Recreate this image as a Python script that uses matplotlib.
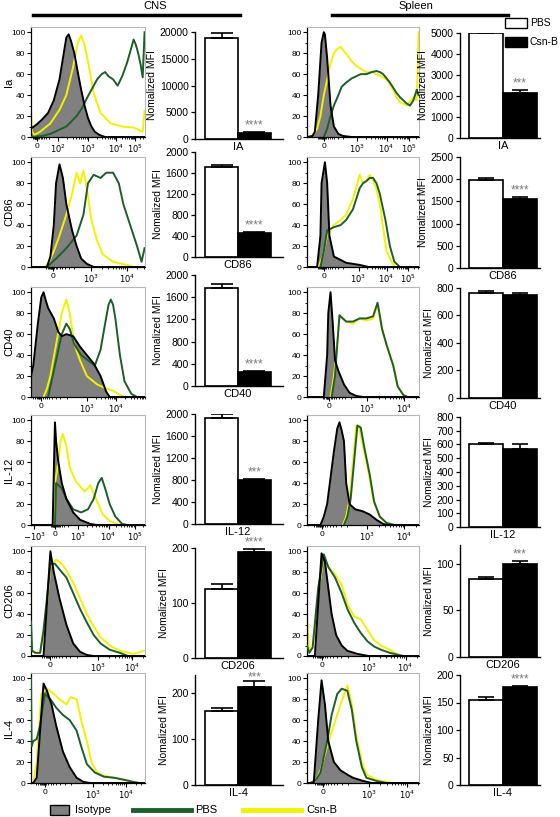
import math
import matplotlib.pyplot as plt
from matplotlib.patches import Rectangle
from matplotlib.lines import Line2D

plt.rcParams['font.family'] = ['Liberation Sans', 'DejaVu Sans']

W, H = 560, 817
GREEN = '#1d5e2a'
YELLOW = '#f2f200'
GRAY = '#808080'

# ---- data (histograms: x in % of axis width, y = % of max) ----
markers = ['Ia', 'CD86', 'CD40', 'IL-12', 'CD206', 'IL-4']
bar_labels = ['IA', 'CD86', 'CD40', 'IL-12', 'CD206', 'IL-4']

# CNS histograms
cns_ia_iso = [(0, 8), (5, 12), (10, 17), (15, 23), (20, 35), (25, 55), (28, 75), (31, 95), (33, 98), (35, 92),
              (38, 80), (41, 62), (44, 45), (47, 30), (50, 18), (53, 10), (56, 5), (60, 2), (65, 0), (100, 0)]
cns_ia_csnb = [(0, 23), (1, 5), (3, 2), (8, 5), (17, 13), (25, 26), (31, 40), (37, 67), (41, 90), (44, 97),
               (47, 88), (50, 72), (55, 42), (61, 23), (70, 13), (80, 10), (90, 9), (98, 5), (99.6, 25)]
cns_ia_pbs = [(0, 0), (10, 1), (17, 3), (25, 7), (31, 10), (40, 20), (45, 28), (49, 37), (54, 47), (58, 55),
              (62, 60), (65, 62), (68, 58), (72, 55), (76, 49), (80, 58), (84, 70), (88, 85), (90, 93), (92, 88),
              (94, 80), (96, 70), (98, 57), (99.6, 100)]

cns_cd86_iso = [(0, 0), (14, 0), (17, 10), (20, 40), (22, 80), (25, 98), (28, 85), (31, 60), (36, 35), (40, 20),
                (44, 8), (49, 3), (55, 0), (100, 0)]
cns_cd86_csnb = [(12, 0), (16, 5), (20, 15), (25, 30), (31, 50), (36, 70), (40, 90), (43, 80), (46, 92), (49, 75),
                 (53, 45), (58, 25), (63, 12), (72, 5), (84, 2), (90, 0)]
cns_cd86_pbs = [(14, 0), (22, 8), (31, 18), (40, 30), (46, 50), (50, 80), (55, 88), (61, 85), (66, 90), (72, 90),
                (77, 80), (81, 60), (87, 40), (93, 20), (97, 5), (99.6, 18)]

cns_cd40_iso = [(0, 20), (2, 30), (6, 70), (9, 95), (11, 100), (13, 92), (15, 85), (20, 75), (24, 62), (27, 58),
                (31, 60), (37, 58), (43, 48), (49, 40), (55, 32), (61, 20), (66, 5), (69, 0), (100, 0)]
cns_cd40_csnb = [(11, 0), (14, 8), (17, 20), (22, 50), (27, 80), (31, 93), (34, 80), (38, 50), (43, 35), (49, 20),
                 (58, 12), (66, 8), (72, 6), (78, 2), (82, 0)]
cns_cd40_pbs = [(15, 0), (18, 15), (21, 30), (27, 60), (31, 70), (34, 65), (38, 50), (44, 40), (50, 35), (56, 30),
                (61, 45), (65, 70), (68, 88), (70, 93), (72, 88), (74, 75), (78, 40), (82, 15), (88, 3), (93, 0)]

cns_il12_iso = [(0, 0), (19, 0), (20, 50), (21, 98), (22, 80), (24, 60), (27, 40), (31, 25), (37, 12), (43, 5),
                (52, 1), (58, 0), (100, 0)]
cns_il12_csnb = [(20, 0), (21, 40), (24, 60), (26, 80), (28, 87), (31, 75), (34, 55), (39, 42), (43, 37), (47, 32),
                 (50, 35), (52, 38), (55, 30), (59, 20), (63, 10), (69, 4), (75, 1), (80, 0)]
cns_il12_pbs = [(21, 0), (22, 40), (24, 38), (27, 35), (31, 25), (37, 15), (44, 12), (50, 15), (55, 25), (59, 40),
                (62, 45), (65, 35), (69, 20), (74, 8), (80, 1), (85, 0)]

cns_cd206_iso = [(0, 0), (11, 0), (14, 50), (17, 100), (20, 80), (25, 55), (31, 30), (37, 12), (43, 4), (49, 1),
                 (55, 0), (100, 0)]
cns_cd206_csnb = [(0, 5), (4, 3), (8, 3), (11, 20), (14, 50), (17, 85), (22, 92), (27, 88), (31, 82), (37, 70),
                  (43, 55), (49, 40), (55, 28), (61, 18), (69, 10), (78, 5), (90, 2), (99.6, 5)]
cns_cd206_pbs = [(0, 33), (1, 5), (4, 3), (8, 3), (11, 25), (14, 55), (17, 88), (21, 88), (27, 80), (31, 75),
                 (37, 60), (43, 45), (49, 32), (55, 20), (61, 12), (69, 6), (78, 3), (85, 0)]

cns_il4_iso = [(0, 0), (2, 0), (5, 5), (8, 50), (11, 95), (14, 88), (18, 75), (22, 55), (28, 30), (34, 15),
               (40, 5), (46, 1), (52, 0), (100, 0)]
cns_il4_csnb = [(2, 0), (5, 20), (9, 85), (14, 90), (20, 85), (25, 80), (31, 75), (35, 82), (40, 80), (44, 60),
                (49, 40), (53, 20), (58, 10), (64, 7), (73, 5), (82, 3), (90, 1), (95, 0)]
cns_il4_pbs = [(0, 100), (0.5, 35), (2, 40), (5, 42), (8, 55), (12, 85), (17, 80), (22, 72), (28, 65), (34, 60),
               (40, 50), (44, 35), (49, 18), (56, 10), (64, 6), (73, 5), (82, 3), (90, 1), (95, 0)]

# Spleen histograms
spl_ia_iso = [(0, 0), (5, 1), (7, 5), (10, 40), (13, 90), (15, 100), (16, 98), (18, 75), (21, 30), (24, 10),
              (28, 3), (32, 1), (40, 0), (100, 0)]
spl_ia_csnb = [(0, 0), (5, 1), (9, 8), (12, 20), (15, 40), (18, 55), (21, 70), (24, 80), (27, 84), (30, 86),
               (33, 82), (36, 78), (40, 72), (44, 68), (48, 65), (53, 62), (58, 62), (62, 60), (66, 58), (71, 55),
               (74, 50), (77, 45), (80, 38), (83, 33), (86, 32), (89, 30), (92, 34), (95, 38), (98, 35), (99.6, 100)]
spl_ia_pbs = [(15, 0), (18, 8), (21, 20), (24, 30), (28, 40), (31, 48), (35, 52), (40, 56), (44, 58), (48, 60),
              (53, 60), (58, 62), (62, 63), (65, 62), (68, 60), (71, 56), (74, 52), (77, 47), (80, 42), (83, 38),
              (86, 35), (89, 32), (92, 30), (95, 35), (98, 45), (99.6, 40)]

spl_cd86_iso = [(0, 0), (9, 0), (12, 30), (13, 80), (16, 100), (18, 80), (20, 30), (24, 10), (35, 4), (47, 2),
                (55, 0), (100, 0)]
spl_cd86_csnb = [(10, 0), (14, 10), (18, 30), (24, 40), (30, 45), (35, 50), (41, 65), (45, 80), (47, 88), (50, 80),
                 (53, 82), (56, 88), (58, 85), (62, 75), (65, 60), (67, 45), (71, 15), (77, 2), (80, 0)]
spl_cd86_pbs = [(12, 0), (15, 15), (18, 35), (24, 38), (30, 40), (35, 45), (41, 55), (47, 75), (50, 80), (53, 82),
                (56, 85), (59, 85), (62, 80), (65, 70), (70, 45), (74, 20), (78, 5), (83, 0)]

spl_cd40_iso = [(0, 0), (15, 0), (18, 40), (19, 80), (21, 100), (23, 70), (25, 35), (28, 25), (33, 12), (38, 4),
                (44, 1), (50, 0), (100, 0)]
spl_cd40_csnb = [(21, 0), (24, 20), (27, 50), (29, 78), (32, 75), (35, 72), (41, 70), (47, 75), (53, 73), (59, 75),
                 (63, 88), (65, 75), (67, 65), (71, 50), (77, 30), (81, 10), (86, 2), (90, 0)]
spl_cd40_pbs = [(22, 0), (25, 20), (27, 50), (29, 78), (32, 75), (35, 72), (41, 72), (47, 75), (53, 75), (59, 77),
                (63, 90), (65, 78), (67, 65), (71, 50), (77, 30), (81, 10), (86, 2), (90, 0)]

spl_il12_iso = [(0, 0), (12, 0), (15, 8), (18, 20), (21, 45), (24, 70), (27, 92), (29, 98), (31, 90), (33, 80),
                (35, 40), (38, 20), (43, 15), (50, 13), (56, 10), (62, 5), (68, 1), (72, 0), (100, 0)]
spl_il12_csnb = [(32, 0), (35, 8), (38, 25), (41, 60), (44, 95), (47, 92), (50, 75), (55, 50), (59, 25), (65, 8),
                 (71, 2), (78, 0)]
spl_il12_pbs = [(33, 0), (36, 8), (39, 25), (42, 60), (45, 95), (48, 93), (51, 75), (56, 48), (60, 22), (65, 8),
                (71, 2), (78, 0)]

spl_cd206_iso = [(0, 0), (7, 0), (10, 50), (13, 98), (16, 90), (19, 65), (22, 40), (26, 20), (31, 10), (36, 5),
                 (45, 2), (55, 0), (100, 0)]
spl_cd206_csnb = [(0, 35), (2, 5), (5, 8), (10, 60), (15, 95), (19, 85), (25, 78), (31, 68), (36, 50), (42, 38),
                  (48, 35), (54, 25), (60, 15), (66, 10), (74, 6), (80, 2), (85, 0)]
spl_cd206_pbs = [(0, 10), (2, 3), (5, 8), (10, 65), (15, 97), (19, 85), (25, 75), (31, 60), (36, 45), (42, 32),
                 (48, 22), (54, 14), (60, 9), (66, 6), (74, 3), (86, 0)]

spl_il4_iso = [(0, 0), (6, 0), (10, 60), (13, 98), (16, 75), (19, 40), (24, 20), (30, 12), (36, 8), (41, 5),
               (50, 2), (58, 0), (100, 0)]
spl_il4_csnb = [(3, 0), (8, 3), (12, 12), (18, 35), (24, 55), (30, 75), (36, 93), (40, 75), (44, 45), (49, 20),
                (53, 8), (62, 3), (71, 1), (78, 0)]
spl_il4_pbs = [(3, 0), (8, 3), (12, 10), (18, 40), (22, 65), (27, 85), (31, 90), (36, 88), (40, 70), (44, 40),
               (49, 15), (53, 5), (62, 2), (71, 0)]

# x tick labels of the flow axes: (decade exponent, None = 0, position in %)
cns_xticks = [
    [(None, 5), (2, 24), (3, 50), (4, 75), (5, 91)],
    [(None, 19), (3, 53), (4, 84)],
    [(None, 9), (3, 49), (4, 75)],
    [(-3, 3), (None, 21), (3, 41), (4, 68), (5, 91)],
    [(None, 17), (3, 59), (4, 89)],
    [(None, 12), (3, 54), (4, 83)],
]
spl_xticks = [
    [(None, 15), (3, 45), (4, 71), (5, 91)],
    [(None, 15), (3, 46), (4, 71), (5, 90)],
    [(None, 20), (3, 54), (4, 87)],
    [(None, 13), (3, 54), (4, 87)],
    [(None, 13), (3, 55), (4, 88)],
    [(None, 14), (3, 55), (4, 89)],
]

# bar charts: Nomalized MFI
cns_pbs = [18900, 1720, 1760, 1930, 125, 162]
cns_pbs_err = [900, 30, 80, 70, 10, 5]
cns_csnb = [1100, 460, 250, 800, 193, 213]
cns_csnb_err = [150, 20, 15, 25, 6, 15]
cns_stars = ['****', '****', '****', '***', '****', '***']
cns_yticks = [range(0, 20001, 5000), range(0, 2001, 400), range(0, 2001, 400),
              range(0, 2001, 400), range(0, 201, 100), range(0, 201, 100)]
cns_ytop = [20000, 2000, 2000, 2000, 200, 240]

spl_pbs = [5000, 1990, 760, 600, 84, 155]
spl_pbs_err = [150, 40, 15, 10, 2, 5]
spl_csnb = [2150, 1550, 750, 570, 100, 178]
spl_csnb_err = [130, 40, 10, 35, 3, 2]
spl_stars = ['***', '****', '', '', '***', '****']
spl_yticks = [range(0, 5001, 1000), range(0, 2501, 500), range(0, 801, 200),
              range(0, 801, 100), range(0, 101, 50), range(0, 201, 50)]
spl_ytop = [5000, 2500, 800, 800, 120, 200]

cns_hists = [(cns_ia_iso, cns_ia_pbs, cns_ia_csnb), (cns_cd86_iso, cns_cd86_pbs, cns_cd86_csnb),
             (cns_cd40_iso, cns_cd40_pbs, cns_cd40_csnb), (cns_il12_iso, cns_il12_pbs, cns_il12_csnb),
             (cns_cd206_iso, cns_cd206_pbs, cns_cd206_csnb), (cns_il4_iso, cns_il4_pbs, cns_il4_csnb)]
spl_hists = [(spl_ia_iso, spl_ia_pbs, spl_ia_csnb), (spl_cd86_iso, spl_cd86_pbs, spl_cd86_csnb),
             (spl_cd40_iso, spl_cd40_pbs, spl_cd40_csnb), (spl_il12_iso, spl_il12_pbs, spl_il12_csnb),
             (spl_cd206_iso, spl_cd206_pbs, spl_cd206_csnb), (spl_il4_iso, spl_il4_pbs, spl_il4_csnb)]

# ---- layout in pixels (top-left origin) ----
hist_bottom = [137, 267, 397, 525, 656, 783]
cns_bar_box = [(32, 139), (152, 257), (275, 386), (414, 524), (548, 658), (675, 785)]
spl_bar_box = [(33, 138), (157, 268), (288, 398), (417, 527), (545, 657), (675, 785)]

fig = plt.figure(figsize=(W / 100, H / 100), dpi=100)


def px_axes(x0, y0, x1, y1):
    return fig.add_axes([x0 / W, 1 - y1 / H, (x1 - x0) / W, (y1 - y0) / H])


def tick_label(exp):
    if exp is None:
        return '0'
    if exp < 0:
        return r'$-10^{%d}$' % (-exp)
    return r'$10^{%d}$' % exp


def draw_hist(ax, iso, pbs, csnb, xticks):
    x, y = zip(*iso)
    ax.fill_between(x, y, color=GRAY, lw=0, zorder=1)
    ax.plot(x, y, color='black', lw=1.4, zorder=4)
    x, y = zip(*csnb)
    ax.plot(x, y, color=YELLOW, lw=1.4, zorder=2)
    x, y = zip(*pbs)
    ax.plot(x, y, color=GREEN, lw=1.4, zorder=3)
    ax.set_xlim(0, 100)
    ax.set_ylim(0, 105)
    ax.set_yticks(range(0, 101, 20))
    ax.set_yticks(range(10, 100, 20), minor=True)
    ax.set_xticks([p for e, p in xticks])
    ax.set_xticklabels([tick_label(e) for e, p in xticks])
    # minor ticks: crowded near zero, log spaced inside decades
    minors = []
    zero = [p for e, p in xticks if e is None][0]
    ups = [p for e, p in xticks if e is not None and e > 0]
    first = ups[0]
    for m in range(2, 10):
        f = 1 - math.log10(m)
        minors.append(zero + (first - zero) * f * 0.8)
        minors.append(zero - (first - zero) * f * 0.25)
    for a, b in zip(ups[:-1], ups[1:]):
        for m in range(2, 10):
            minors.append(a + (b - a) * math.log10(m))
    if len(ups) >= 2:
        step = ups[-1] - ups[-2]
        for m in range(2, 10):
            minors.append(ups[-1] + step * math.log10(m))
    ax.set_xticks([m for m in minors if 0 < m < 100], minor=True)
    ax.tick_params(which='major', direction='out', length=3, width=0.8, labelsize=6, pad=1)
    ax.tick_params(which='minor', direction='out', length=1.6, width=0.6)
    for s in ('top', 'right'):
        ax.spines[s].set_color('#b8b8b8')
        ax.spines[s].set_linewidth(0.8)
    for s in ('left', 'bottom'):
        ax.spines[s].set_linewidth(0.9)


def draw_bars(ax, pbs, pbs_err, csnb, csnb_err, star, label, yticks, ytop, xlim, cap):
    ax.bar([0, 1], [pbs, csnb], width=1, color=['white', 'black'], edgecolor='black', lw=1.2, zorder=2)
    ax.errorbar([0, 1], [pbs, csnb], yerr=[[0, 0], [pbs_err, csnb_err]], fmt='none', ecolor='black',
                elinewidth=1.2, capsize=cap, capthick=1.2, zorder=3)
    if star:
        sy = csnb + csnb_err + ytop * 0.005
        if csnb < ytop * 0.92 < sy:
            sy = ytop * 0.92  # keep inside the panel, over the error bar
        ax.text(1, sy, star, ha='center', va='bottom', color='#7a7a7a', fontsize=8.5, zorder=4)
    ax.set_xlim(*xlim)
    ax.set_ylim(0, ytop)
    ax.set_yticks(list(yticks))
    ax.set_xticks([0.5])
    ax.set_xticklabels([label], fontsize=8)
    ax.tick_params(axis='x', length=0, pad=2)
    ax.tick_params(axis='y', direction='out', length=3, width=0.9, labelsize=7.5, pad=1.5)
    ax.set_ylabel('Nomalized MFI', fontsize=7.5, labelpad=2)
    for s in ('top', 'right'):
        ax.spines[s].set_visible(False)
    for s in ('left', 'bottom'):
        ax.spines[s].set_linewidth(1)


for i in range(6):
    b = hist_bottom[i]
    ax = px_axes(31, b - 110, 145, b)
    draw_hist(ax, *cns_hists[i], cns_xticks[i])
    fig.text(9 / W, 1 - (b - 55) / H, markers[i], rotation=90, ha='center', va='center', fontsize=8)

    ax = px_axes(307, b - 110, 419, b)
    draw_hist(ax, *spl_hists[i], spl_xticks[i])

    top, bot = cns_bar_box[i]
    ax = px_axes(195, top, 283, bot)
    draw_bars(ax, cns_pbs[i], cns_pbs_err[i], cns_csnb[i], cns_csnb_err[i], cns_stars[i], bar_labels[i],
              cns_yticks[i], cns_ytop[i], (-0.81, 1.87), 8)

    top, bot = spl_bar_box[i]
    ax = px_axes(460, top, 540, bot)
    draw_bars(ax, spl_pbs[i], spl_pbs_err[i], spl_csnb[i], spl_csnb_err[i], spl_stars[i], bar_labels[i],
              spl_yticks[i], spl_ytop[i], (-0.76, 1.59), 6)

# headers
fig.text(155 / W, 1 - 6 / H, 'CNS', ha='center', va='center', fontsize=8)
fig.add_artist(Line2D([33 / W, 240 / W], [1 - 15 / H] * 2, color='black', lw=2.5))
fig.text(416 / W, 1 - 6 / H, 'Spleen', ha='center', va='center', fontsize=8)
fig.add_artist(Line2D([332 / W, 508 / W], [1 - 15 / H] * 2, color='black', lw=2.5))

# top-right legend
fig.add_artist(Rectangle((505 / W, 1 - 28 / H), 22 / W, 10 / H, fc='white', ec='black', lw=1))
fig.text(530 / W, 1 - 23 / H, 'PBS', ha='left', va='center', fontsize=7.5)
fig.add_artist(Rectangle((505 / W, 1 - 47 / H), 22 / W, 10 / H, fc='black', ec='black', lw=1))
fig.text(530 / W, 1 - 42 / H, 'Csn-B', ha='left', va='center', fontsize=7.5)

# bottom legend
ly = 1 - 810 / H
fig.add_artist(Rectangle((50 / W, 1 - 815 / H), 19 / W, 10 / H, fc=GRAY, ec='black', lw=1))
fig.text(75 / W, ly, 'Isotype', ha='left', va='center', fontsize=8)
fig.add_artist(Line2D([133 / W, 191 / W], [ly, ly], color=GREEN, lw=3.5))
fig.text(195 / W, ly, 'PBS', ha='left', va='center', fontsize=8)
fig.add_artist(Line2D([243 / W, 301 / W], [ly, ly], color=YELLOW, lw=3.5))
fig.text(306 / W, ly, 'Csn-B', ha='left', va='center', fontsize=8)

fig.savefig('out.png', dpi=100)
